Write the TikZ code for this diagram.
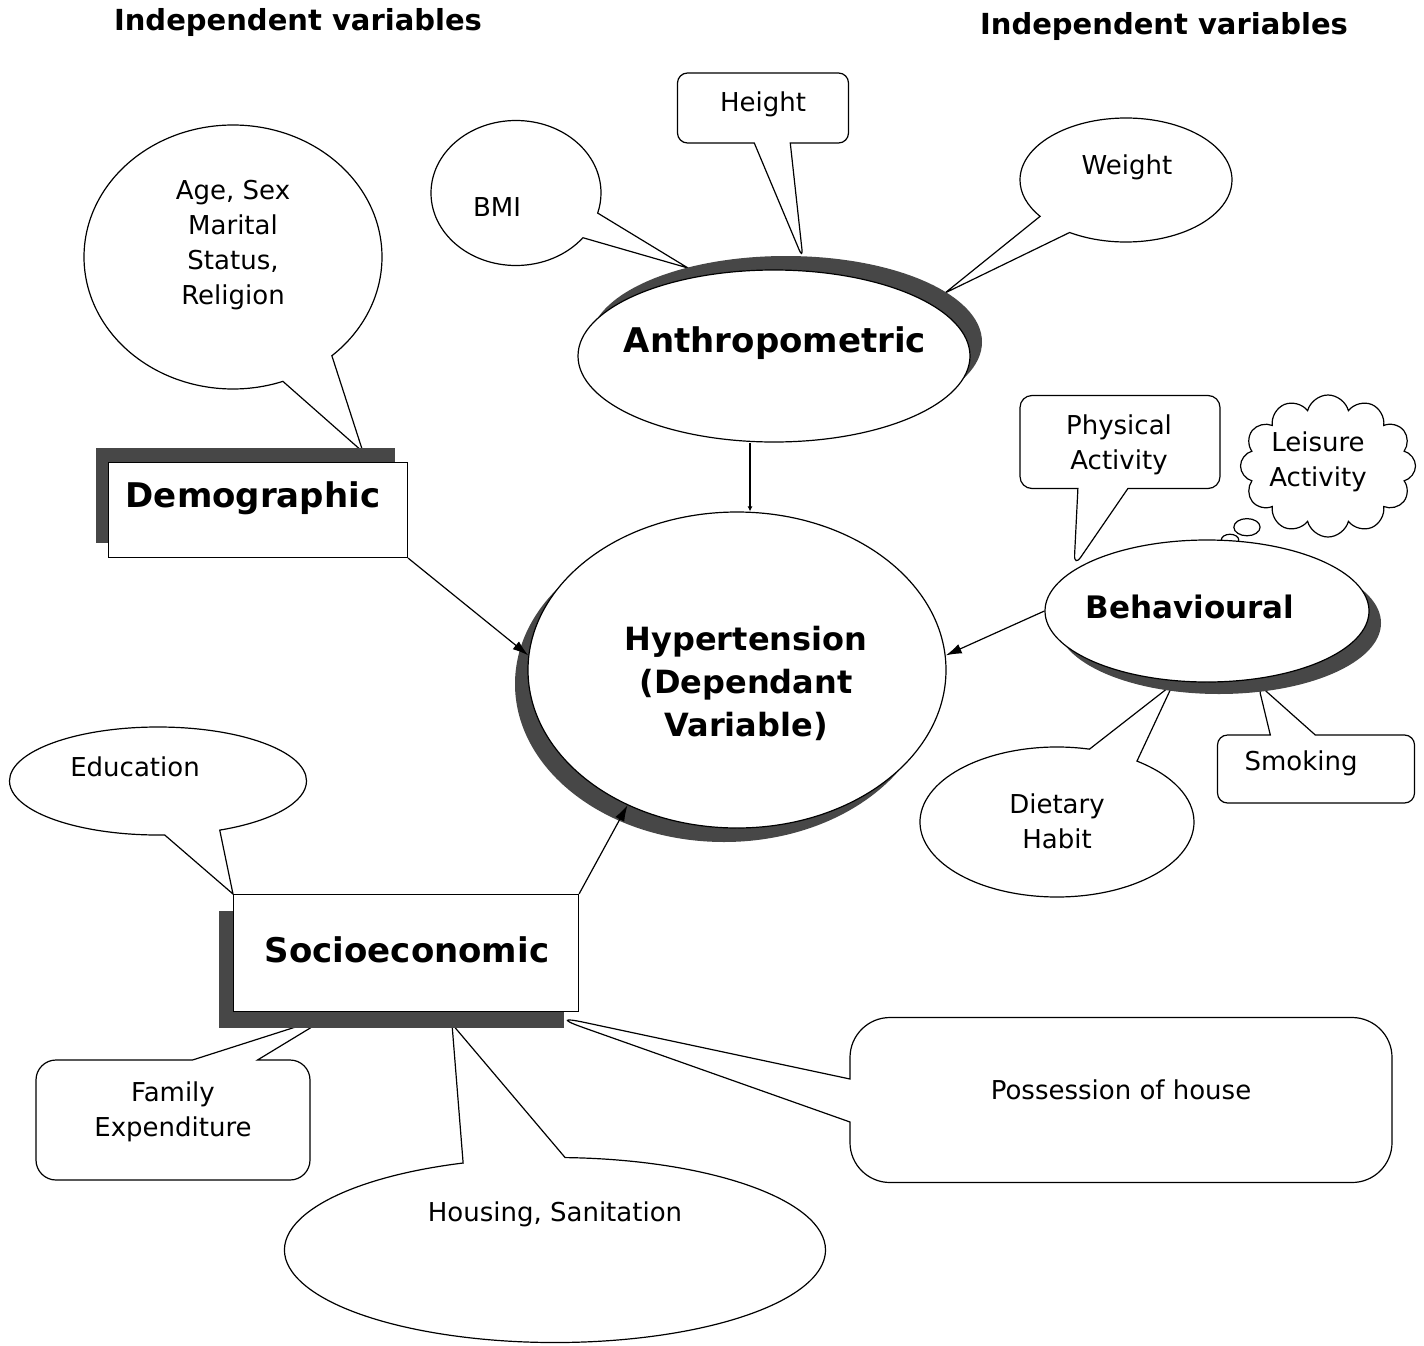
\documentclass[tikz,border=0pt]{standalone}
\usepackage{fontspec}
\setmainfont{DejaVu Sans}
\usetikzlibrary{shapes.geometric,shapes.symbols,shapes.callouts,shadows,arrows.meta}

\tikzset{
  trait/.style={line width=1.2pt},
  lbl/.style={font=\fontsize{26}{35}\selectfont, align=center},
  titre/.style={font=\bfseries\fontsize{34}{43}\selectfont, align=center},
  entete/.style={font=\bfseries\fontsize{29}{34}\selectfont},
  bulle/.style={ellipse callout, draw, fill=white, trait, callout pointer arc=22, inner sep=0pt},
  boite/.style={rectangle callout, draw, fill=white, trait, inner sep=0pt},
  fleche/.style={trait, -{Latex[length=16pt,width=10pt]}},
  ombre/.style 2 args={drop shadow={shadow xshift=#1, shadow yshift=#2, fill=black!72, opacity=1}}
}

\begin{document}
\begin{tikzpicture}[x=1pt, y=-1pt]
    \useasboundingbox (0,0) rectangle (1424,1346);
    % titres
    \node[entete] (indepG) at (298,22) {Independent variables};
    \node[entete] (indepD) at (1164,27) {Independent variables};
    % pointes des bulles
    \coordinate (pHeight) at (803,259);
    \coordinate (pBmi) at (688,268);
    \coordinate (pWeight) at (945,293);
    \coordinate (pAge) at (363,452);
    \coordinate (pPhys) at (1074,567);
    \coordinate (pLeis) at (1230,540);
    \coordinate (pDiet) at (1173,684);
    \coordinate (pSmok) at (1258,684);
    \coordinate (pEdu) at (233,894);
    \coordinate (pFam) at (330,1016);
    \coordinate (pHous) at (452,1024);
    \coordinate (pPoss) at (545,1014);
    % bulles
    \node[boite, rounded corners=10pt, callout pointer width=36pt, minimum width=171pt, minimum height=70pt, callout absolute pointer={(pHeight)}] (height) at (763,108) {};
    \node[bulle, minimum width=170pt, minimum height=145pt, callout absolute pointer={(pBmi)}] (bmi) at (516,193) {};
    \node[bulle, minimum width=212pt, minimum height=124pt, callout absolute pointer={(pWeight)}] (weight) at (1126,180) {};
    \node[bulle, minimum width=298pt, minimum height=264pt, callout absolute pointer={(pAge)}] (age) at (233,257) {};
    \node[boite, rounded corners=12pt, callout pointer width=50pt, minimum width=200pt, minimum height=93pt, callout absolute pointer={(pPhys)}] (phys) at (1120,442) {};
    \node[cloud callout, draw, fill=white, trait, cloud puffs=12, cloud ignores aspect, minimum width=175pt, minimum height=142pt, inner sep=0pt, callout absolute pointer={(pLeis)}] (leis) at (1328,466) {};
    \node[bulle, minimum width=274pt, minimum height=150pt, callout absolute pointer={(pDiet)}] (diet) at (1057,822) {};
    \node[boite, rounded corners=10pt, callout pointer width=45pt, minimum width=197pt, minimum height=68pt, callout absolute pointer={(pSmok)}] (smok) at (1316,769) {};
    \node[bulle, minimum width=297pt, minimum height=108pt, callout absolute pointer={(pEdu)}] (edu) at (158,781) {};
    \node[boite, rounded corners=20pt, callout pointer width=65pt, minimum width=274pt, minimum height=120pt, callout absolute pointer={(pFam)}] (fam) at (173,1120) {};
    \node[bulle, minimum width=541pt, minimum height=185pt, callout absolute pointer={(pHous)}] (hous) at (555,1250) {};
    \node[boite, rounded corners=40pt, callout pointer width=43pt, minimum width=542pt, minimum height=165pt, callout absolute pointer={(pPoss)}] (poss) at (1121,1100) {};
    % textes des bulles
    \node[lbl] (heightT) at (763,104) {Height};
    \node[lbl] (bmiT) at (497,207) {BMI};
    \node[lbl] (weightT) at (1127,167) {Weight};
    \node[lbl] (ageT) at (233,245) {Age, Sex\\Marital\\Status,\\Religion};
    \node[lbl] (physT) at (1119,445) {Physical\\Activity};
    \node[lbl] (leisT) at (1318,462) {Leisure\\Activity};
    \node[lbl] (dietT) at (1057,821) {Dietary\\Habit};
    \node[lbl] (smokT) at (1301,763) {Smoking};
    \node[lbl] (eduT) at (135,767) {Education};
    \node[lbl] (famT) at (173,1112) {Family\\Expenditure};
    \node[lbl] (housT) at (555,1214) {Housing, Sanitation};
    \node[lbl] (possT) at (1121,1090) {Possession of house};
    % blocs principaux
    \node[ellipse, draw, fill=white, trait, minimum width=392pt, minimum height=172pt, ombre={12pt}{14pt}] (anthro) at (774,356) {};
    \node[ellipse, draw, fill=white, trait, minimum width=418pt, minimum height=316pt, ombre={-13pt}{-14pt}] (hyper) at (737,670) {};
    \node[ellipse, draw, fill=white, trait, minimum width=324pt, minimum height=142pt, ombre={12pt}{-12pt}] (behav) at (1207,611) {};
    \node[rectangle, draw, fill=white, trait, minimum width=299pt, minimum height=95pt, ombre={-13pt}{15pt}] (demo) at (258,510) {};
    \node[rectangle, draw, fill=white, trait, minimum width=345pt, minimum height=117pt, ombre={-15pt}{-16pt}] (socio) at (406,953) {};
    \node[titre] (anthroT) at (775,343) {Anthropometric};
    \node[titre, font=\bfseries\fontsize{32}{43}\selectfont] (hyperT) at (746,683) {Hypertension\\(Dependant\\Variable)};
    \node[titre, font=\bfseries\fontsize{31}{40}\selectfont] (behavT) at (1190,607) {Behavioural};
    \node[titre] (demoT) at (253,498) {Demographic};
    \node[titre] (socioT) at (407,950) {Socioeconomic};
    % flèches
    \draw[trait, -{Latex[length=5pt,width=5pt]}] ([xshift=-24pt]anthro.south) -- ([xshift=13pt]hyper.north);
    \draw[fleche] (demo.south east) -- (hyper.176);
    \draw[fleche] (socio.north east) -- (hyper.231);
    \draw[fleche] (behav.west) -- (hyper.4);
\end{tikzpicture}
\end{document}
